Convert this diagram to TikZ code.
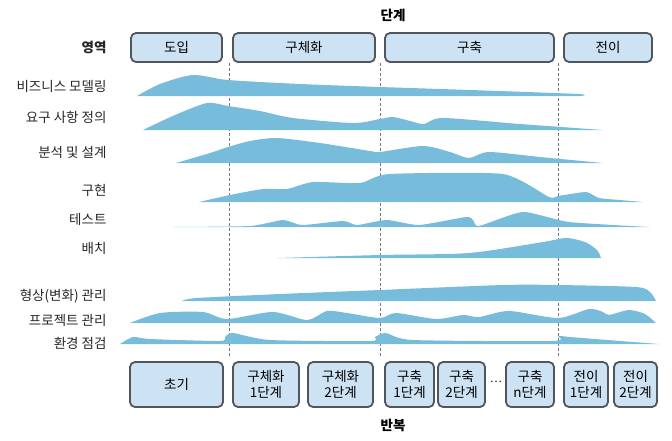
\documentclass[tikz,border=0pt]{standalone}
\usepackage{fontspec}
\setmainfont{Noto Sans CJK KR}
\usetikzlibrary{positioning}

\definecolor{humpblue}{HTML}{78BCDC}
\definecolor{boxblue}{HTML}{CDE3F3}
\definecolor{boxline}{HTML}{4F565E}

\tikzset{
  phase/.style={draw=boxline, line width=1.8pt, fill=boxblue, rounded corners=5pt,
    minimum height=29, inner sep=0pt, font=\fontsize{13.5}{15}\selectfont},
  iter/.style={draw=boxline, line width=1.8pt, fill=boxblue, rounded corners=5pt,
    minimum height=45, inner sep=0pt, align=center, font=\fontsize{13.5}{16}\selectfont},
  area/.style={anchor=east, font=\fontsize{13.5}{15}\selectfont, text=black!85},
  hump/.style={fill=humpblue},
  border/.style={draw=boxline!80, dashed, dash pattern=on 3pt off 2pt, line width=0.6pt},
}

\begin{document}
\begin{tikzpicture}[x=1pt, y=-1pt]
  \useasboundingbox (0,0) rectangle (672,440);

  % 제목
  \node[font=\fontsize{13.5}{15}\selectfont\bfseries] (title) at (393,15) {단계};
  \node[area, font=\fontsize{13.5}{15}\selectfont\bfseries] (areahead) at (110,47.5) {영역};

  % 단계
  \node[phase, minimum width=91] (inception) at (176.5,47.5) {도입};
  \node[phase, minimum width=142] (elaboration) at (304,47.5) {구체화};
  \node[phase, minimum width=169] (construction) at (469.5,47.5) {구축};
  \node[phase, minimum width=88] (transition) at (608,47.5) {전이};

  % 경계선
  \foreach \x in {229,380,558}
    \draw[border] (\x,63) -- (\x,358);

  % 영역
  \node[area] (bm)   at (110,86)  {비즈니스 모델링};
  \node[area] (req)  at (110,117) {요구 사항 정의};
  \node[area] (ad)   at (110,152) {분석 및 설계};
  \node[area] (impl) at (110,190) {구현};
  \node[area] (test) at (110,219) {테스트};
  \node[area] (dep)  at (110,248) {배치};
  \node[area] (cm)   at (110,296) {형상(변화) 관리};
  \node[area] (pm)   at (110,320) {프로젝트 관리};
  \node[area] (env)  at (110,343) {환경 점검};

  % 작업량 곡선
  \fill[hump] plot[smooth, tension=0.45] coordinates {
    (137,96) (160,84) (193,75) (228,80) (300,84) (380,87) (470,90) (578,94) (581,96)} -- cycle;
  \fill[hump] plot[smooth, tension=0.45] coordinates {
    (143,130) (175,115) (207,103) (228,106) (260,111) (293,118) (353,123) (380,119)
    (393,117) (410,121) (424,124) (443,118) (520,124) (603,130)} -- cycle;
  \fill[hump] plot[smooth, tension=0.45] coordinates {
    (176,163) (210,153) (228,147) (250,141) (277,138) (320,143) (370,151) (380,152)
    (423,146) (450,152) (469,158) (489,152) (540,157) (603,163)} -- cycle;
  \fill[hump] plot[smooth, tension=0.35] coordinates {
    (199,202) (230,195) (263,189) (287,189) (313,182) (360,183) (389,174) (503,174)
    (549,197) (558,196) (586,192) (599,198) (620,200) (643,202)} -- cycle;
  \fill[hump] plot[smooth, tension=0.35] coordinates {
    (173,227) (250,226) (283,220) (302,225) (343,221) (357,225) (387,220) (419,225)
    (466,217) (473,220) (479,226) (523,212) (569,222) (649,227)} -- cycle;
  \fill[hump] plot[smooth, tension=0.45] coordinates {
    (277,258) (380,255) (469,253) (543,242) (566,238) (585,242) (597,250) (601,258)} -- cycle;
  \fill[hump] plot[smooth, tension=0.45] coordinates {
    (182,301) (197,298) (280,294) (380,290) (503,285) (558,285) (636,287) (650,292) (656,301)} -- cycle;
  \fill[hump] plot[smooth, tension=0.45] coordinates {
    (130,323) (160,313) (203,312) (227,319) (273,312) (307,320) (327,311) (347,313)
    (380,318) (396,313) (436,319) (463,315) (479,317) (509,311) (558,318) (589,309)
    (603,312) (609,315) (629,310) (645,314) (656,323)} -- cycle;
  \fill[hump] plot[smooth, tension=0.4] coordinates {
    (120,344) (133,337) (150,339) (220,341) (225,337) (233,333) (270,340) (370,341)
    (375,337) (386,333) (413,340) (553,341) (558,336) (570,337) (620,341) (659,344)} -- cycle;

  % 반복
  \node[iter, minimum width=93] (initial) at (176.5,384.5) {초기};
  \node[iter, minimum width=66] (e1) at (266,384.5) {구체화\\1단계};
  \node[iter, minimum width=65] (e2) at (340.5,384.5) {구체화\\2단계};
  \node[iter, minimum width=49] (c1) at (409.5,384.5) {구축\\1단계};
  \node[iter, minimum width=47] (c2) at (461.5,384.5) {구축\\2단계};
  \node[font=\fontsize{11}{12}\selectfont] (dots) at (496,382) {\dots};
  \node[iter, minimum width=48] (cn) at (530,384.5) {구축\\n단계};
  \node[iter, minimum width=44] (t1) at (586,384.5) {전이\\1단계};
  \node[iter, minimum width=43] (t2) at (635.5,384.5) {전이\\2단계};

  \node[font=\fontsize{13.5}{15}\selectfont\bfseries] (iterations) at (393,425) {반복};
\end{tikzpicture}
\end{document}
